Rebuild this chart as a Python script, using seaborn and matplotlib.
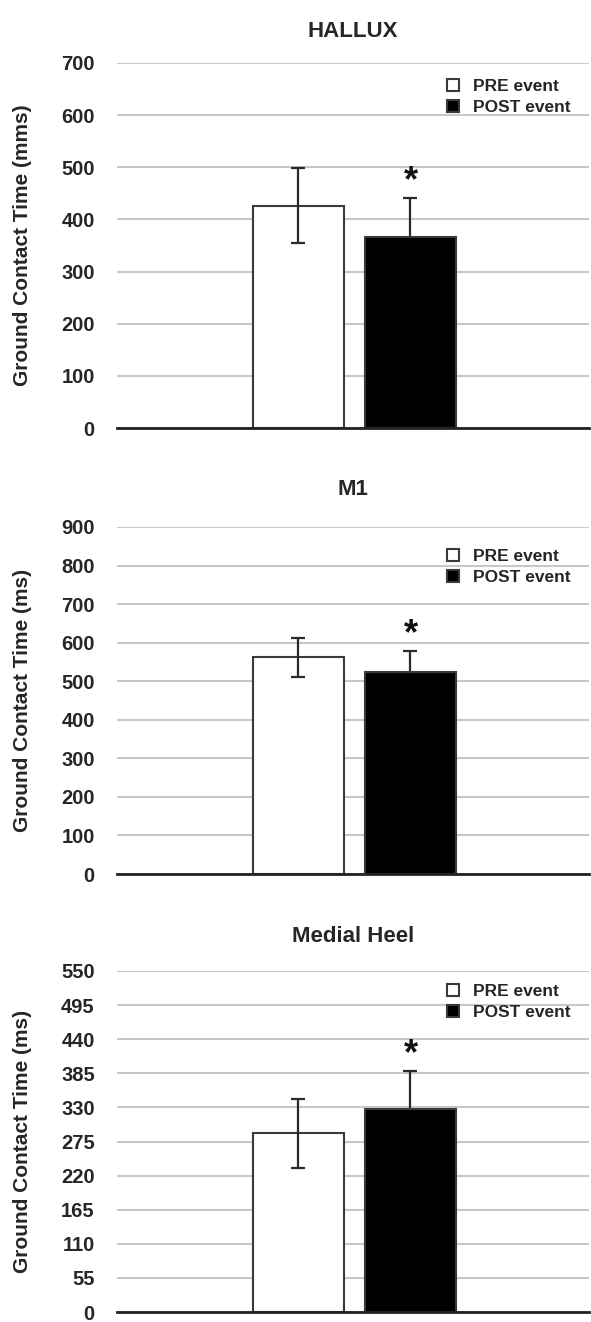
import pandas as pd
import numpy as np
import matplotlib
matplotlib.use('Agg')
import matplotlib.pyplot as plt
import seaborn as sns

# values
regions = ['HALLUX', 'M1', 'Medial Heel']
events = ['PRE event', 'POST event']
pre_mean = [426, 562, 288]
pre_err = [72, 50, 55]
post_mean = [367, 525, 327]
post_err = [74, 54, 62]
ylabels = ['Ground Contact Time (mms)', 'Ground Contact Time (ms)', 'Ground Contact Time (ms)']
yticks = [list(range(0, 701, 100)), list(range(0, 901, 100)), list(range(0, 551, 55))]

sns.set_style('white')
plt.rcParams['font.family'] = ['Liberation Sans', 'DejaVu Sans']
plt.rcParams['font.weight'] = 'bold'

fig = plt.figure(figsize=(5.91, 13.22), dpi=100)

# axes boxes in pixels: left, top, bottom
W, H = 591, 1322
boxes = [(117, 63, 428), (117, 527, 874), (117, 971, 1312)]
title_pads = [19, 23, 21]
legend_y = [0.956, 0.937, 0.962]

for i, region in enumerate(regions):
    left, top, bottom = boxes[i]
    ax = fig.add_axes([left / W, 1 - bottom / H, 472 / W, (bottom - top) / H])

    df = pd.DataFrame({
        'region': [region, region],
        'event': events,
        'time': [pre_mean[i], post_mean[i]],
    })
    sns.barplot(data=df, x='region', y='time', hue='event', hue_order=events,
                palette={'PRE event': 'white', 'POST event': 'black'},
                edgecolor='#3a3a3a', linewidth=1.5, gap=0.18, errorbar=None,
                ax=ax, zorder=3)

    means = [pre_mean[i], post_mean[i]]
    errs = [pre_err[i], post_err[i]]
    # PRE error bar sits on top of the white bar, POST one goes behind the black bar
    for cont, m, e, z in zip(ax.containers, means, errs, [4, 2]):
        bar = cont.patches[0]
        xc = bar.get_x() + bar.get_width() / 2
        ax.errorbar(xc, m, yerr=e, color='#2a2a2a', lw=1.6, capsize=5,
                    capthick=1.6, zorder=z)

    # significance star over POST bar
    bar = ax.containers[1].patches[0]
    xc = bar.get_x() + bar.get_width() / 2
    ax.annotate('*', xy=(xc, post_mean[i] + post_err[i]), xytext=(0, -1),
                textcoords='offset points', ha='center', va='bottom',
                fontsize=26, fontweight='bold', color='#111111')

    ax.set_xlim(-0.848, 0.8375)
    ax.set_ylim(0, yticks[i][-1])
    ax.set_yticks(yticks[i])
    ax.set_xticks([])
    ax.set_xlabel('')
    ax.set_ylabel(ylabels[i], fontsize=15, fontweight='bold')
    ax.yaxis.set_label_coords(-0.18, 0.5)
    ax.tick_params(axis='y', length=0, pad=16, labelsize=14.5)
    for lab in ax.get_yticklabels():
        lab.set_fontweight('bold')
    ax.set_title(region, fontsize=16, fontweight='bold', pad=title_pads[i])

    ax.yaxis.grid(True, color='#c8c8c8', lw=1.5, zorder=0)
    ax.set_axisbelow(True)
    for s in ['top', 'right', 'left']:
        ax.spines[s].set_visible(False)
    ax.spines['bottom'].set_color('#222222')
    ax.spines['bottom'].set_linewidth(2)
    ax.spines['bottom'].set_zorder(5)

    ax.legend(loc='upper left', bbox_to_anchor=(0.70, legend_y[i]), frameon=False,
              borderaxespad=0, borderpad=0, handlelength=0.65, handleheight=0.65,
              handletextpad=0.8, labelspacing=0.35, prop={'size': 12.5, 'weight': 'bold'})

fig.savefig('out.png', dpi=100)
